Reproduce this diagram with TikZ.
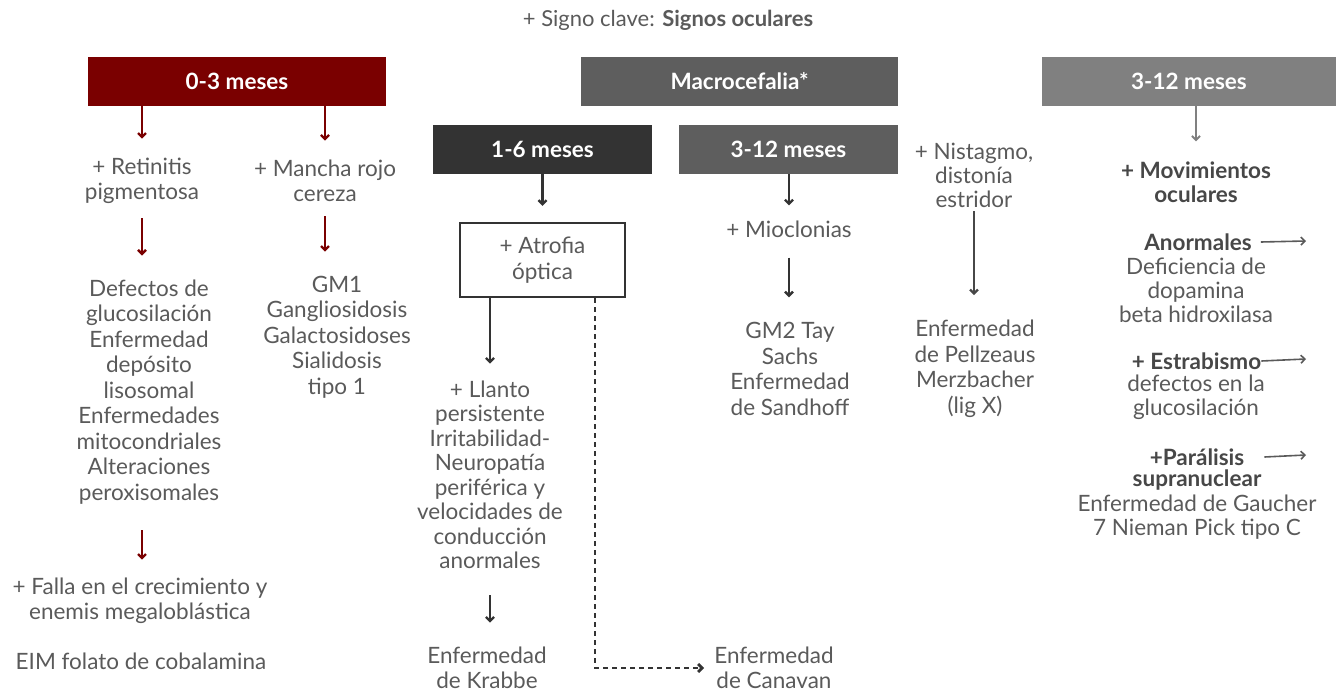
\documentclass[tikz,border=0pt]{standalone}
\usepackage{fontspec}
\setmainfont{Lato}
\usetikzlibrary{arrows.meta}
\definecolor{dred}{HTML}{7A0000}
\definecolor{gmac}{HTML}{5E5E5E}
\definecolor{gdark}{HTML}{333333}
\definecolor{glight}{HTML}{808080}
\definecolor{tgray}{HTML}{5A5A5A}
\definecolor{bgray}{HTML}{474747}
\newcommand\myfont{\fontsize{22.5}{25.5}\selectfont}
\newcommand\myhdrfont{\fontsize{22.5}{26}\selectfont}
\tikzset{
  txt/.style={font=\myfont, text=tgray, align=center, inner sep=0pt},
  btxt/.style={font=\myfont\bfseries, text=bgray, align=center, inner sep=0pt},
  hdr/.style={minimum height=49pt, inner sep=0pt, text=white, font=\myhdrfont\bfseries},
  tip/.style={-{Straight Barb[length=4pt,width=8pt]}},
  arrred/.style={tip, draw=dred, line width=2.4pt},
  arrdk/.style={tip, draw=gdark, line width=2.4pt},
  arrlt/.style={tip, draw=glight, line width=2pt},
  arrh/.style={tip, draw=tgray, line width=1.6pt},
  dotarr/.style={draw=gdark, line width=2.8pt, dash pattern=on 5pt off 4pt, -{Straight Barb[length=4pt,width=8pt]}}
}
\begin{document}
\begin{tikzpicture}[x=1pt,y=-1pt]
\useasboundingbox (0,0) rectangle (1336,692);
% title
\node[txt, font=\fontsize{22}{25}\selectfont] (title) at (668,20) {+ Signo clave: \textbf{Signos oculares}};
% header boxes
\node[hdr, fill=dred, minimum width=298pt] (b03) at (237,81.5) {0-3 meses};
\node[hdr, fill=gmac, minimum width=317pt] (bmac) at (739.5,81.5) {Macrocefalia*};
\node[hdr, fill=glight, minimum width=294pt] (b312r) at (1189,81.5) {3-12 meses};
\node[hdr, fill=gdark, minimum width=219pt] (b16) at (542.5,149.5) {1-6 meses};
\node[hdr, fill=gmac, minimum width=219pt] (b312m) at (788.5,149.5) {3-12 meses};
\node[txt, draw=gdark, line width=2.2pt, minimum width=165pt, minimum height=74pt] (atro) at (542.5,260) {+ Atrofia\\óptica};
% left column
\node[txt] (ret) at (142,181) {+ Retinitis\\pigmentosa};
\node[txt] (man) at (325,181) {+ Mancha rojo\\cereza};
\node[txt] (defe) at (149,392) {Defectos de\\glucosilación\\Enfermedad\\depósito\\lisosomal\\Enfermedades\\mitocondriales\\Alteraciones\\peroxisomales};
\node[txt] (gm1) at (337,337) {GM1\\Gangliosidosis\\Galactosidoses\\Sialidosis\\tipo 1};
\node[txt] (falla) at (140,601) {+ Falla en el crecimiento y\\enemis megaloblástica};
\node[txt] (eim) at (141,661) {EIM folato de cobalamina};
% middle
\node[txt, font=\fontsize{22.5}{24.5}\selectfont] (llanto) at (490,475) {+ Llanto\\persistente\\Irritabilidad-\\Neuropatía\\periférica y\\velocidades de\\conducción\\anormales};
\node[txt] (krabbe) at (487,668) {Enfermedad\\de Krabbe};
\node[txt] (canavan) at (774,668) {Enfermedad\\de Canavan};
\node[txt] (mio) at (789,229) {+ Mioclonias};
\node[txt] (gm2) at (790,369) {GM2 Tay\\Sachs\\Enfermedad\\de Sandhoff};
\node[txt, font=\fontsize{22.5}{24}\selectfont] (nist) at (974,175) {+ Nistagmo,\\distonía\\estridor};
\node[txt] (pell) at (975,369) {Enfermedad\\de Pellzeaus\\Merzbacher\\(lig X)};
% right
\node[btxt, font=\fontsize{22.5}{24}\selectfont\bfseries] (mov) at (1196,182) {+ Movimientos\\oculares};
\node[btxt] (anor) at (1198,242) {Anormales};
\node[txt, font=\fontsize{22.5}{24}\selectfont] (defi) at (1196,290) {Deficiencia de\\dopamina\\beta hidroxilasa};
\node[btxt] (estr) at (1196.5,361) {+ Estrabismo};
\node[txt, font=\fontsize{22.5}{24}\selectfont] (defe2) at (1196,397) {defectos en la\\glucosilación};
\node[btxt] (par) at (1197,457) {+Parálisis};
\node[txt, font=\fontsize{22.5}{24.5}\selectfont] (gau) at (1197,505) {\textbf{\color{bgray}supranuclear}\\Enfermedad de Gaucher\\7 Nieman Pick tipo C};
\coordinate (e1) at (1306,241);
\coordinate (e2) at (1306,359);
\coordinate (e3) at (1306,455);
% arrows
\draw[arrred] (b03.south -| ret.north) -- (ret.north) [shorten >=19pt];
\draw[arrred] (b03.south -| man.north) -- (man.north) [shorten >=19pt];
\draw[arrred] (ret.south) -- (defe.north -| ret.south) [shorten <=14pt, shorten >=24pt];
\draw[arrred] (man.south) -- (gm1.north -| man.south) [shorten <=14pt, shorten >=24pt];
\draw[arrred] (defe.south -| ret.south) -- (falla.north -| ret.south) [shorten <=26pt, shorten >=18pt];
\draw[arrdk] (b16.south) -- (atro.north) [shorten >=16pt];
\draw[arrdk] (atro.south -| llanto.north) -- (llanto.north) [shorten >=17pt];
\draw[arrdk] (llanto.south) -- (krabbe.north -| llanto.south) [shorten <=26pt, shorten >=24pt];
\draw[dotarr] (atro.south) ++(52.5,0) |- (canavan.west) [shorten >=10pt];
\draw[arrdk] (b312m.south -| mio.north) -- (mio.north) [shorten >=15pt];
\draw[arrdk] (mio.south -| mio.north) -- (gm2.north -| mio.north) [shorten <=20pt, shorten >=25pt];
\draw[arrdk, draw=bgray] (nist.south) -- (pell.north -| nist.south) [shorten <=4pt, shorten >=25pt];
\draw[arrlt] (b312r.south -| mov.north) -- (mov.north) [shorten >=20pt];
\draw[arrh] (anor.east) ++(9,0) -- (e1);
\draw[arrh] (estr.east) -- (e2);
\draw[arrh] (par.east) ++(20,0) -- (e3);
\end{tikzpicture}
\end{document}
